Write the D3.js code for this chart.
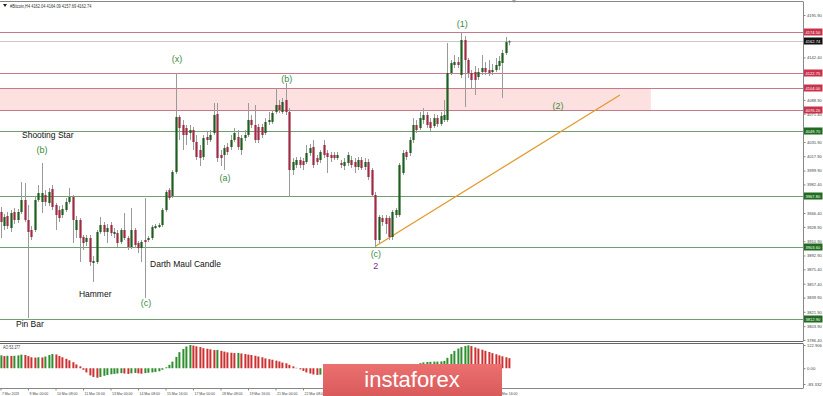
<!DOCTYPE html>
<html>
<head>
<meta charset="utf-8">
<script src="https://cdn.jsdelivr.net/npm/d3@7"></script>
<style>
body { margin: 0; background: #fff; }
svg text { font-family: "Liberation Sans", Arial, sans-serif; }
</style>
</head>
<body>
<div id="vis"></div>
<script>
var width = 823;
var height = 396;

// H4 bars, first one is 7 Mar 2019 16:00
var opens = [3947.7,3930.0,3942.6,3927.5,3947.7,3937.6,3947.7,3962.8,3937.6,3925.0,
    3925.0,3962.8,3960.3,3969.1,3959.0,3976.7,3956.5,3950.2,3943.9,3950.2,
    3960.3,3966.6,3925.0,3937.6,3916.2,3909.9,3914.9,3883.4,3884.7,3922.5,
    3931.3,3922.5,3931.3,3920.0,3921.2,3909.9,3925.0,3914.9,3903.6,3925.0,
    3908.6,3902.3,3912.4,3912.4,3914.9,3927.5,3928.8,3931.3,3950.2,3975.4,
    3967.8,3998.1,4067.4,4057.3,4053.5,4047.2,4051.0,4035.9,4025.8,4017.0,
    4042.2,4038.4,4047.2,4071.2,4019.5,4019.5,4029.6,4029.6,4038.4,4042.2,
    4025.8,4040.9,4044.7,4063.6,4057.3,4054.8,4054.8,4047.2,4061.1,4061.1,
    4073.7,4082.5,4073.7,4088.8,4073.7,4000.6,4006.9,4013.2,4011.9,4010.7,
    4022.0,4029.6,4015.7,4013.2,4032.1,4022.0,4019.5,4019.5,4015.7,4009.4,
    4005.6,4009.4,4013.2,4010.7,4004.4,4013.2,4004.4,4010.7,4000.6,3969.1,
    3912.4,3940.1,3940.1,3940.1,3916.2,3943.9,3943.9,3996.8,4023.3,4022.0,
    4038.4,4057.3,4053.5,4063.6,4069.9,4061.1,4056.0,4066.1,4058.6,4063.6,
    4063.6,4122.8,4132.9,4136.7,4120.3,4164.4,4139.2,4122.8,4124.1,4117.8,
    4124.1,4129.1,4126.6,4124.1,4126.6,4131.6,4135.4,4148.0,4162.04];
var highs = [3954.0,3945.2,3947.7,3950.2,3952.7,3951.5,3985.5,3984.2,3956.5,3930.0,
    3966.6,3981.7,4009.4,3975.4,3977.9,3981.7,3959.0,3955.2,3956.5,3965.3,
    3977.9,3969.1,3942.6,3940.1,3918.7,3918.7,3918.7,3892.2,3925.0,3941.4,
    3935.1,3932.6,3935.1,3927.5,3925.0,3927.5,3946.4,3917.4,3952.7,3927.5,
    3911.1,3912.4,3965.3,3917.4,3931.3,3932.6,3933.8,3952.7,3975.4,3977.9,
    4000.6,4122.8,4069.9,4063.6,4057.3,4057.3,4054.8,4044.7,4032.1,4044.7,
    4048.5,4051.0,4085.0,4085.0,4025.8,4032.1,4034.6,4044.7,4053.5,4051.0,
    4044.7,4051.0,4085.0,4069.9,4082.5,4058.6,4058.6,4066.1,4073.7,4076.2,
    4103.9,4088.8,4091.3,4110.2,4078.7,4015.7,4017.0,4017.0,4015.7,4032.1,
    4033.4,4038.4,4019.5,4025.8,4038.4,4025.8,4023.3,4023.3,4023.3,4013.2,
    4015.7,4023.3,4018.2,4015.7,4017.0,4017.0,4015.7,4014.5,4003.1,3972.9,
    3943.9,3943.9,3943.9,3942.6,3950.2,3952.7,4009.4,4025.8,4025.8,4042.2,
    4066.1,4063.6,4073.7,4078.7,4073.7,4066.1,4071.2,4069.9,4073.7,4088.8,
    4160.6,4139.2,4145.5,4143.0,4174.5,4169.4,4141.7,4126.6,4131.6,4129.1,
    4145.5,4136.7,4139.2,4134.2,4141.7,4144.2,4151.8,4168.2,4164.09];
var lows = [3914.9,3925.0,3926.3,3922.5,3932.6,3933.8,3945.2,3935.1,3814.1,3912.4,
    3922.5,3960.3,3946.4,3955.2,3955.2,3950.2,3925.0,3935.1,3940.1,3947.7,
    3957.8,3908.6,3914.9,3884.7,3899.8,3904.8,3879.6,3859.5,3882.2,3920.0,
    3917.4,3908.6,3917.4,3914.9,3903.6,3907.4,3912.4,3899.8,3901.1,3902.3,
    3896.0,3884.7,3839.3,3909.9,3912.4,3926.3,3927.5,3928.8,3947.7,3962.8,
    3965.3,3995.6,4038.4,4025.8,4032.1,4038.4,4025.8,4013.2,4005.6,4013.2,
    4032.1,4035.9,4044.7,4010.7,4005.6,4000.6,4019.5,4025.8,4035.9,4025.8,
    4019.5,4037.1,4042.2,4053.5,4034.6,4034.6,4040.9,4044.7,4057.3,4058.6,
    4071.2,4072.4,4071.2,4069.9,3966.6,3994.3,4003.1,4003.1,4000.6,4008.2,
    4018.2,4003.1,4006.9,4009.4,4015.7,3996.8,4010.7,4013.2,4013.2,4003.1,
    4000.6,4005.6,4003.1,3996.8,4000.6,4000.6,4000.6,3988.0,3966.6,3903.6,
    3908.6,3930.0,3920.0,3912.4,3912.4,3940.1,3941.4,3994.3,4013.2,4018.2,
    4034.6,4047.2,4051.0,4058.6,4053.5,4049.7,4053.5,4054.8,4056.0,4061.1,
    4061.1,4120.3,4129.1,4129.1,4116.5,4080.0,4116.5,4103.9,4095.1,4114.0,
    4120.3,4120.3,4119.0,4120.3,4124.1,4126.6,4091.3,4145.5,4157.69];
var closes = [3935.1,3941.4,3930.0,3946.4,3937.6,3947.7,3962.8,3937.6,3922.5,3916.2,
    3962.8,3971.6,3971.6,3960.3,3972.9,3954.0,3943.9,3940.1,3951.5,3960.3,
    3966.6,3937.6,3937.6,3914.9,3908.6,3914.9,3884.7,3885.9,3922.5,3931.3,
    3922.5,3927.5,3921.2,3922.5,3908.6,3925.0,3914.9,3903.6,3925.0,3906.1,
    3902.3,3909.9,3909.9,3914.9,3928.8,3930.0,3931.3,3950.2,3972.9,3965.3,
    3998.1,4067.4,4053.5,4044.7,4044.7,4051.0,4035.9,4017.0,4015.7,4040.9,
    4038.4,4044.7,4069.9,4015.7,4015.7,4028.3,4023.3,4038.4,4047.2,4029.6,
    4040.9,4044.7,4063.6,4057.3,4038.4,4038.4,4044.7,4061.1,4063.6,4072.4,
    4082.5,4076.2,4086.3,4073.7,4000.6,4010.7,4013.2,4006.9,4006.9,4022.0,
    4028.3,4006.9,4010.7,4023.3,4019.5,4017.0,4015.7,4015.7,4019.5,4006.9,
    4010.7,4019.5,4006.9,4004.4,4013.2,4003.1,4010.7,3991.8,3969.1,3912.4,
    3941.4,3935.1,3932.6,3916.2,3947.7,3950.2,4006.9,4022.0,4017.0,4038.4,
    4057.3,4051.0,4066.1,4069.9,4057.3,4053.5,4066.1,4058.6,4068.6,4069.9,
    4122.8,4135.4,4136.7,4132.9,4164.4,4139.2,4122.8,4114.0,4114.0,4124.1,
    4129.1,4124.1,4122.8,4126.6,4132.9,4137.9,4148.0,4162.0,4162.74];

// Awesome Oscillator values, one per bar
var aoValues = [68,64,66,65,66,68,72,70,64,
    58,56,58,57,
    62,70,75,73,
    65,58,50,42,32,20,10,
    -8,-22,-38,-46,-50,-46,-40,
    -36,-32,-30,-28,-26,-28,-30,-27,-25,-27,-29,-26,-24,-22,-20,-16,
    -8,5,18,35,
    60,85,102,115,122.906,120,
    116,112,106,103,100,96,97,92,88,84,82,80,81,78,75,72,70,66,62,
    58,52,48,45,40,36,30,26,18,10,
    2,-6,-14,-22,-28,-33,-35,-34,-31,-28,-25,
    -24,-22,-22,-24,-25,-24,-26,-27,-28,-30,-34,-42,-55,-66,-75,-81,-83.332,-80,-72,-58,
    -40,-24,-8,8,20,27,31,33,34,35,35,36,39,55,
    75,92,104,112,118,121,
    117,110,104,98,92,86,80,74,68,63,58,53.177];

var priceTicks = [4195.90, 4178.40, 4160.40, 4142.40, 4124.90, 4106.90, 4088.90, 4071.40,
    4053.40, 4035.90, 4017.90, 3999.90, 3982.40, 3964.40, 3946.40, 3928.90, 3910.90,
    3892.90, 3875.40, 3857.40, 3839.90, 3821.90, 3803.90, 3786.40];
var aoTicks = [122.906, 0, -83.332];
var aoTickLabels = ['122.906', '0.00', '-83.332'];
var dateLabels = ['7 Mar 2019', '9 Mar 00:00', '10 Mar 08:00', '11 Mar 16:00', '13 Mar 00:00',
    '14 Mar 08:00', '15 Mar 16:00', '17 Mar 00:00', '18 Mar 08:00', '19 Mar 16:00',
    '21 Mar 00:00', '22 Mar 08:00', '23 Mar 16:00', '25 Mar 00:00', '26 Mar 08:00',
    '27 Mar 16:00', '29 Mar 00:00', '30 Mar 08:00', '31 Mar 16:00'];

// horizontal levels drawn on the chart
var levelPrices = [4174.50, 4162.74, 4122.75, 4104.00, 4076.20, 4049.70, 3967.80, 3903.60, 3812.90];
var levelKinds = ['res', 'bid', 'res', 'res', 'res', 'sup', 'sup', 'sup', 'sup'];
var zonePrices = [4104.00, 4076.20];
var zoneBars = [0, 189.2];
var trendBars = [109.2, 180.2];
var trendPrices = [3904.8, 4095.1];

var waveLabels = ['(1)', '(x)', '(b)', '(b)', '(a)', '(2)', '(c)', '2', '(c)'];
var waveBars = [134.3, 51.35, 83.3, 12.1, 65.3, 162.2, 109.2, 109.2, 42.3];
var wavePrices = [4181, 4136.7, 4111.5, 4022, 3986.7, 4077.5, 3891, 3875.9, 3829.2];
var noteLabels = ['Shooting Star', 'Darth Maul Candle', 'Hammer', 'Pin Bar'];
var noteBars = [6.25, 43.5, 22.8, 4.5];
var notePrices = [4040.9, 3878.4, 3840.6, 3802.8];

var header = '#Bitcoin,H4  4162.04 4164.09 4157.69 4162.74';
var aoName = 'AO 53.177';

var plotRight = 803;
var x = d3.scaleLinear().domain([0, 8]).range([0.5, 28]);
var y = d3.scaleLinear().domain([3786.40, 4195.90]).range([340, 15]);
var yAO = d3.scaleLinear().domain([-83.332, 122.906]).range([384, 345]);

// squeeze tiny terminal text to the width it has in the screenshot
function squeeze(sel, perChar) {
    sel.attr('lengthAdjust', 'spacingAndGlyphs')
        .attr('textLength', function () { return this.textContent.length * perChar; });
}

var svg = d3.select('#vis')
    .append('svg')
    .attr('width', width)
    .attr('height', height);

svg.append('rect').attr('width', width).attr('height', height).attr('fill', '#fff');

var clipMain = svg.append('clipPath').attr('id', 'clipMain');
clipMain.append('rect').attr('x', 0).attr('y', 2).attr('width', plotRight).attr('height', 339);

var main = svg.append('g').attr('clip-path', 'url(#clipMain)');

// pink zone
main.append('rect')
    .attr('x', x(zoneBars[0]) - 1)
    .attr('y', y(zonePrices[0]))
    .attr('width', x(zoneBars[1]) - x(zoneBars[0]) + 1)
    .attr('height', y(zonePrices[1]) - y(zonePrices[0]))
    .attr('fill', '#fde1e1');

// level lines
var levelColor = { res: '#c47a88', bid: '#c8c8c8', sup: '#6f9f6f' };
main.selectAll('line.level')
    .data(levelPrices)
    .enter().append('line')
    .attr('x1', 0)
    .attr('x2', plotRight)
    .attr('y1', function (d) { return Math.round(y(d)) + 0.5; })
    .attr('y2', function (d) { return Math.round(y(d)) + 0.5; })
    .attr('stroke', function (d, i) { return levelColor[levelKinds[i]]; })
    .attr('stroke-width', 1);

// trend line
main.append('line')
    .attr('x1', x(trendBars[0])).attr('y1', y(trendPrices[0]))
    .attr('x2', x(trendBars[1])).attr('y2', y(trendPrices[1]))
    .attr('stroke', '#e39a2e')
    .attr('stroke-width', 1.3);

// candles
var bars = d3.range(opens.length);
var candle = main.append('g').selectAll('g')
    .data(bars)
    .enter().append('g');
candle.append('line')
    .attr('x1', function (i) { return Math.round(x(i)) + 0.5; })
    .attr('x2', function (i) { return Math.round(x(i)) + 0.5; })
    .attr('y1', function (i) { return y(highs[i]); })
    .attr('y2', function (i) { return y(lows[i]); })
    .attr('stroke', '#9a9a9a')
    .attr('stroke-width', 1);
candle.append('rect')
    .attr('x', function (i) { return Math.round(x(i)) - 0.6; })
    .attr('width', 2.2)
    .attr('y', function (i) { return y(Math.max(opens[i], closes[i])); })
    .attr('height', function (i) { return Math.max(1, Math.abs(y(opens[i]) - y(closes[i]))); })
    .attr('fill', function (i) { return closes[i] >= opens[i] ? '#1e5e1e' : '#9e2a44'; });

// wave and pattern labels
main.selectAll('text.wave')
    .data(waveLabels)
    .enter().append('text')
    .attr('x', function (d, i) { return x(waveBars[i]); })
    .attr('y', function (d, i) { return y(wavePrices[i]); })
    .attr('text-anchor', 'middle')
    .attr('font-size', 9)
    .attr('fill', function (d) { return d === '2' ? '#7b2b8b' : '#3d8b3d'; })
    .text(function (d) { return d; });
main.selectAll('text.note')
    .data(noteLabels)
    .enter().append('text')
    .attr('x', function (d, i) { return x(noteBars[i]); })
    .attr('y', function (d, i) { return y(notePrices[i]); })
    .attr('font-size', 8.5)
    .attr('fill', '#111')
    .text(function (d) { return d; });

// header
svg.append('path').attr('d', 'M3,4 L7,4 L5,7 Z').attr('fill', '#222');
svg.append('text').attr('x', 10).attr('y', 7.5).attr('font-size', 4.6).attr('fill', '#333')
    .text(header).call(squeeze, 1.85);
svg.append('path').attr('d', 'M512,0 L516,0 L514,3 Z').attr('fill', '#aaa');

// AO histogram
var ao = svg.append('g');
ao.selectAll('rect')
    .data(aoValues)
    .enter().append('rect')
    .attr('x', function (d, i) { return Math.round(x(i)) - 0.6; })
    .attr('width', 2)
    .attr('y', function (d) { return yAO(Math.max(0, d)); })
    .attr('height', function (d) { return Math.abs(yAO(d) - yAO(0)); })
    .attr('fill', function (d, i) { return (i === 0 || d >= aoValues[i - 1]) ? '#2f8f2f' : '#cc3030'; });
svg.append('text').attr('x', 3).attr('y', 349).attr('font-size', 4.6).attr('fill', '#333')
    .text(aoName).call(squeeze, 1.9);

// frame
var frame = svg.append('g').attr('stroke', '#888').attr('fill', 'none');
frame.append('line').attr('x1', 0).attr('x2', plotRight).attr('y1', 1.5).attr('y2', 1.5);
frame.append('line').attr('x1', 0).attr('x2', plotRight).attr('y1', 341.5).attr('y2', 341.5).attr('stroke', '#666');
frame.append('line').attr('x1', 0).attr('x2', plotRight).attr('y1', 343.5).attr('y2', 343.5).attr('stroke', '#666');
frame.append('line').attr('x1', 0).attr('x2', plotRight).attr('y1', 388.5).attr('y2', 388.5);

// price axis, skipping ticks hidden under a level tag
var shownTicks = priceTicks.filter(function (t) {
    return levelPrices.every(function (l) { return Math.abs(y(t) - y(l)) > 3.2; });
});
var yAxis = svg.append('g')
    .attr('transform', 'translate(' + (plotRight + 0.5) + ',0)')
    .call(d3.axisRight(y).tickValues(shownTicks).tickFormat(d3.format('.2f')).tickSize(2).tickPadding(1.5));
yAxis.select('.domain').attr('d', 'M0,1.5V341.5').attr('stroke', '#888');
yAxis.selectAll('.tick line').attr('stroke', '#888');
yAxis.selectAll('text').attr('font-size', 4.3).attr('fill', '#444')
    .attr('font-family', '"Liberation Sans", Arial, sans-serif').call(squeeze, 2.1);

// level labels on the price axis
var levelFill = { res: '#c8324a', bid: '#111', sup: '#1f6b1f' };
var tags = svg.append('g').selectAll('g')
    .data(levelPrices)
    .enter().append('g')
    .attr('transform', function (d) { return 'translate(' + (plotRight + 1) + ',' + Math.round(y(d)) + ')'; });
tags.append('rect')
    .attr('x', 0).attr('y', -3.5).attr('width', 18.5).attr('height', 7)
    .attr('fill', function (d, i) { return levelFill[levelKinds[i]]; });
tags.append('text')
    .attr('x', 1.5).attr('y', 1.7)
    .attr('font-size', 4.3)
    .attr('fill', '#fff')
    .text(function (d) { return d.toFixed(2); })
    .call(squeeze, 2.1);

// AO axis
var aoAxis = svg.append('g')
    .attr('transform', 'translate(' + (plotRight + 0.5) + ',0)')
    .call(d3.axisRight(yAO).tickValues(aoTicks).tickFormat(function (d, i) { return aoTickLabels[i]; }).tickSize(2).tickPadding(1.5));
aoAxis.select('.domain').attr('d', 'M0,343.5V388.5').attr('stroke', '#888');
aoAxis.selectAll('.tick line').attr('stroke', '#888');
aoAxis.selectAll('text').attr('font-size', 4.3).attr('fill', '#444')
    .attr('font-family', '"Liberation Sans", Arial, sans-serif').call(squeeze, 2.1);

// time axis
var dateBars = dateLabels.map(function (d, i) { return i * 8; });
var xAxis = svg.append('g')
    .attr('transform', 'translate(0,388.5)')
    .call(d3.axisBottom(x).tickValues(dateBars).tickFormat(function (d, i) { return dateLabels[i]; }).tickSize(2).tickPadding(1));
xAxis.select('.domain').remove();
xAxis.selectAll('.tick line').attr('stroke', '#888');
xAxis.selectAll('text')
    .attr('text-anchor', 'start')
    .attr('dx', 1)
    .attr('font-size', 4.3)
    .attr('fill', '#444')
    .attr('font-family', '"Liberation Sans", Arial, sans-serif')
    .call(squeeze, 1.7);

// watermark
var grad = svg.append('defs').append('linearGradient')
    .attr('id', 'wm').attr('x1', 0).attr('y1', 0).attr('x2', 0).attr('y2', 1);
grad.append('stop').attr('offset', '0%').attr('stop-color', '#ec7070');
grad.append('stop').attr('offset', '100%').attr('stop-color', '#d95a5a');
svg.append('rect')
    .attr('x', 323).attr('y', 364).attr('width', 179).attr('height', 32)
    .attr('fill', 'url(#wm)');
svg.append('text')
    .attr('x', 412).attr('y', 387)
    .attr('text-anchor', 'middle')
    .attr('font-size', 22)
    .attr('font-family', '"Open Sans", "Noto Sans", sans-serif')
    .attr('fill', '#fff')
    .text('instaforex');
</script>
</body>
</html>
